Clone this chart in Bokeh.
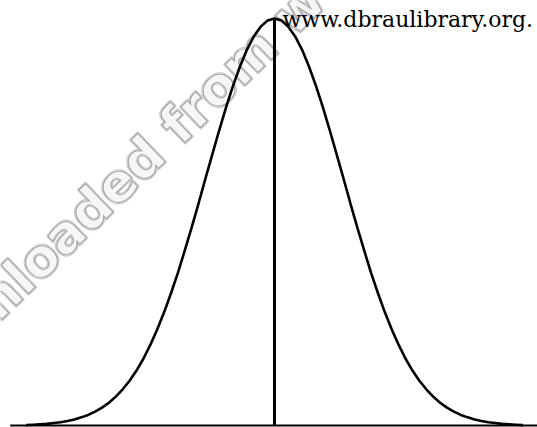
from bokeh.plotting import figure
from bokeh.models import Range1d
from bokeh.core.properties import value
from bokeh.embed import file_html
from bokeh.resources import INLINE

# Standard normal curve, relative height at z = 0.0, 0.1, ... 3.6 (right half)
z_half = [0.0, 0.1, 0.2, 0.3, 0.4, 0.5, 0.6, 0.7, 0.8, 0.9,
          1.0, 1.1, 1.2, 1.3, 1.4, 1.5, 1.6, 1.7, 1.8, 1.9,
          2.0, 2.1, 2.2, 2.3, 2.4, 2.5, 2.6, 2.7, 2.8, 2.9,
          3.0, 3.1, 3.2, 3.3, 3.4, 3.5, 3.6]
h_half = [1.000, 0.995, 0.980, 0.956, 0.923, 0.882, 0.835, 0.783, 0.726, 0.667,
          0.607, 0.546, 0.487, 0.430, 0.375, 0.325, 0.278, 0.236, 0.198, 0.164,
          0.135, 0.110, 0.089, 0.071, 0.056, 0.044, 0.034, 0.026, 0.020, 0.015,
          0.011, 0.008, 0.006, 0.004, 0.003, 0.002, 0.001]

# full symmetric curve
curve_x = [-z for z in reversed(z_half[1:])] + z_half
curve_y = list(reversed(h_half[1:])) + h_half

# horizontal base line and the ordinate at the mean
base_x = [-3.83, 3.81]
mean_z = 0.0
mean_h = 1.0

site_text = "www.dbraulibrary.org."
stamp_text = "Downloaded from www.dbraulibrary.org.in"

p = figure(width=537, height=427, output_backend="svg", toolbar_location=None,
           min_border=0, x_range=Range1d(-3.971, 3.812),
           y_range=Range1d(-0.0049, 1.0442))
p.axis.visible = False
p.grid.visible = False
p.outline_line_color = None
p.background_fill_color = "white"
p.border_fill_color = "white"

# faint diagonal stamp behind the figure: a soft halo of offset copies,
# then the main outlined copy on top
stamp_kw = dict(text=[stamp_text], angle=44, angle_units="deg",
                text_font=value("DejaVu Sans"), text_font_size="52px",
                text_font_style="bold", text_align="left",
                text_baseline="alphabetic")
sx, sy = [-5.497], [0.0688]
for dx, dy in [(-1.5, 0), (1.5, 0), (0, -1.5), (0, 1.5)]:
    p.text(x=sx, y=sy, x_offset=dx, y_offset=dy, text_color="#fafafa",
           text_outline_color="#c4c4c4", **stamp_kw)
p.text(x=sx, y=sy, text_color="#f6f6f6", text_outline_color="#a2a2a2",
       **stamp_kw)

p.line(base_x, [0, 0], line_color="black", line_width=2)
p.line(curve_x, curve_y, line_color="black", line_width=2.6)
p.line([mean_z, mean_z], [0, mean_h], line_color="black", line_width=3)

p.text(x=[0.116], y=[0.998], text=[site_text],
       text_font=value("DejaVu Serif"), text_font_size="22px",
       text_color="black", text_align="left", text_baseline="alphabetic")

open("out.html", "w").write(file_html(p, INLINE))
